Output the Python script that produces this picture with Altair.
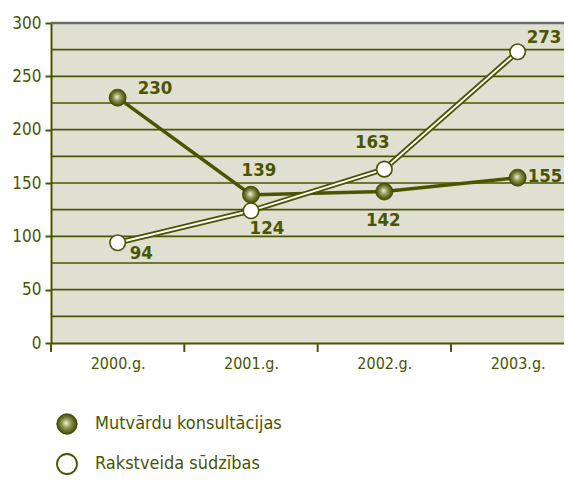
import json
import altair as alt
import pandas as pd

# ---- data ----
years = ["2000.g.", "2001.g.", "2002.g.", "2003.g."]
mutvardu = [230, 139, 142, 155]
rakstveida = [94, 124, 163, 273]
series_names = ["Mutvārdu konsultācijas", "Rakstveida sūdzības"]
y_label_values = [0, 50, 100, 150, 200, 250, 300]
grid_values = [25, 50, 75, 100, 125, 150, 175, 200, 225, 250, 275]
x_boundaries = [-0.5, 0.5, 1.5, 2.5]

# ---- styles ----
OLIVE = "#4a5500"
BG = "#dfe0d2"
FONT = "DejaVu Sans Condensed, Liberation Sans Narrow, DejaVu Sans, sans-serif"
W, H = 513, 320
BAND = 133.33  # px per category

# label placement per point (dx, dy, align) -- styling only
mut_label_style = [(20, -10, "left"), (8, -25, "center"), (-1, 28, "center"), (10, -2, "left")]
rak_label_style = [(12, 10, "left"), (16, 17, "center"), (-12, -27, "center"), (9, -15, "left")]

df_m = pd.DataFrame({"idx": list(range(len(years))), "year": years, "value": mutvardu})
df_r = pd.DataFrame({"idx": list(range(len(years))), "year": years, "value": rakstveida})
df_grid = pd.DataFrame({"g": grid_values})
df_top = pd.DataFrame({"g": [300]})
df_xt = pd.DataFrame({"b": x_boundaries})
df_leg = pd.DataFrame({"series": series_names})

x_scale = alt.Scale(domain=[-0.5, -0.5 + W / BAND], nice=False, zero=False)
y_scale = alt.Scale(domain=[0, 300], nice=False, zero=True)

label_expr = json.dumps(years) + "[datum.value]"
x_axis = alt.Axis(values=[0, 1, 2, 3], labelExpr=label_expr, ticks=False, grid=False,
                  domainColor=OLIVE, domainWidth=2, labelColor=OLIVE, labelFont=FONT,
                  labelFontSize=16, labelPadding=12, title=None, labelFlush=False)
y_axis = alt.Axis(values=y_label_values, grid=False, domainColor=OLIVE, domainWidth=2,
                  tickColor=OLIVE, tickWidth=2, tickSize=6, labelColor=OLIVE, labelFont=FONT,
                  labelFontSize=17, labelPadding=4, title=None)


def X(field):
    return alt.X(field, scale=x_scale, axis=x_axis)


def Y(field):
    return alt.Y(field, scale=y_scale, axis=y_axis)


grid = alt.Chart(df_grid).mark_rule(color=OLIVE, strokeWidth=1.6).encode(y=Y("g:Q"))
top = alt.Chart(df_top).mark_rule(color="#6b6b6b", strokeWidth=2.5).encode(y=Y("g:Q"))
xticks = alt.Chart(df_xt).mark_rule(color=OLIVE, strokeWidth=2).encode(
    x=X("b:Q"), y=alt.value(H), y2=alt.value(H + 9))

line_m = alt.Chart(df_m).mark_line(color=OLIVE, strokeWidth=3.5).encode(x=X("idx:Q"), y=Y("value:Q"))
line_r_out = alt.Chart(df_r).mark_line(color=OLIVE, strokeWidth=5.5).encode(x=X("idx:Q"), y=Y("value:Q"))
line_r_in = alt.Chart(df_r).mark_line(color="white", strokeWidth=2).encode(x=X("idx:Q"), y=Y("value:Q"))

sphere = {
    "gradient": "radial",
    "x1": 0.45, "y1": 0.45, "r1": 0,
    "x2": 0.5, "y2": 0.5, "r2": 0.5,
    "stops": [
        {"offset": 0, "color": "#f2f2e6"},
        {"offset": 0.45, "color": "#8e9652"},
        {"offset": 1, "color": "#3c4700"},
    ],
}

pts_m = alt.Chart(df_m).mark_circle(size=290, fill=sphere, opacity=1, stroke="#3c4700",
                                    strokeWidth=0.8).encode(x=X("idx:Q"), y=Y("value:Q"))
pts_r = alt.Chart(df_r).mark_circle(size=240, fill="white", opacity=1, stroke=OLIVE,
                                    strokeWidth=1.6).encode(x=X("idx:Q"), y=Y("value:Q"))

text_layers = []
for df, styles in ((df_m, mut_label_style), (df_r, rak_label_style)):
    for i, (dx, dy, al) in enumerate(styles):
        text_layers.append(
            alt.Chart(df).transform_filter(alt.datum.idx == i).mark_text(
                dx=dx, dy=dy, align=al, baseline="middle", font=FONT, fontSize=18.5,
                fontWeight="bold", color=OLIVE
            ).encode(x=X("idx:Q"), y=Y("value:Q"), text=alt.Text("value:Q"))
        )

main = alt.layer(grid, top, xticks, line_m, line_r_out, line_r_in, pts_m, pts_r, *text_layers)

leg_y = alt.Y("series:N", scale=alt.Scale(domain=series_names, range=[401, 441], padding=0), axis=None)
leg_m = alt.Chart(df_leg).transform_filter(alt.datum.series == series_names[0]).mark_circle(
    size=420, fill=sphere, opacity=1, stroke="#3c4700", strokeWidth=0.8).encode(x=alt.value(16), y=leg_y)
leg_r = alt.Chart(df_leg).transform_filter(alt.datum.series == series_names[1]).mark_circle(
    size=400, fill="white", opacity=1, stroke=OLIVE, strokeWidth=1.8).encode(x=alt.value(16), y=leg_y)
leg_t = alt.Chart(df_leg).mark_text(align="left", baseline="middle", font=FONT, fontSize=18,
                                    color=OLIVE).encode(x=alt.value(44), y=leg_y, text="series:N")
legend = alt.layer(leg_m, leg_r, leg_t)

chart = alt.layer(main, legend).resolve_scale(y="independent").properties(
    width=W, height=H,
    autosize=alt.AutoSizeParams(type="none"),
    padding={"left": 43, "top": 15, "right": 0, "bottom": 133},
    background="white",
).configure_view(fill=BG, stroke=None)

chart.save("out.html", embed_options={"renderer": "svg", "actions": False})
